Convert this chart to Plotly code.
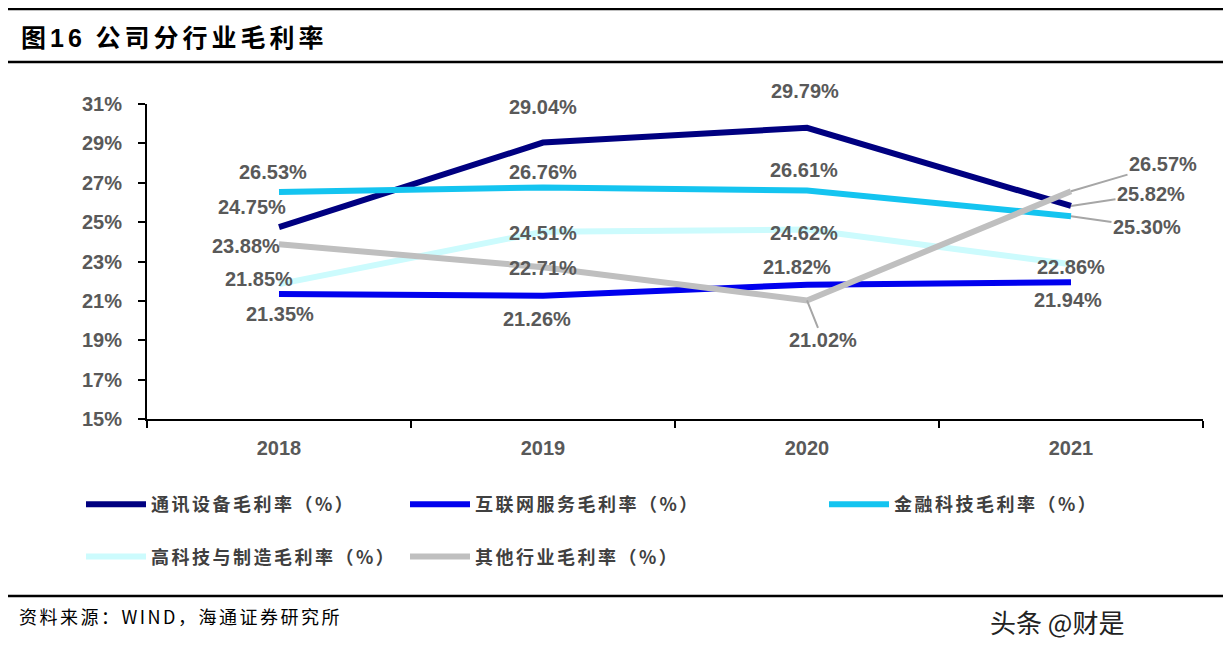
import plotly.graph_objects as go

# data (gross margin by segment, %)
years = ['2018', '2019', '2020', '2021']
comm_equipment = [24.75, 29.04, 29.79, 25.82]
internet_services = [21.35, 21.26, 21.82, 21.94]
fintech = [26.53, 26.76, 26.61, 25.30]
hitech_mfg = [21.85, 24.51, 24.62, 22.86]
other_segments = [23.88, 22.71, 21.02, 26.57]

series_names = ['通讯设备毛利率（%）', '互联网服务毛利率（%）', '金融科技毛利率（%）',
                '高科技与制造毛利率（%）', '其他行业毛利率（%）']
y_ticks = [15, 17, 19, 21, 23, 25, 27, 29, 31]
y_tick_text = ['15%', '17%', '19%', '21%', '23%', '25%', '27%', '29%', '31%']

# styling
colors = ['#000080', '#0000EE', '#14C4F0', '#CCFBFD', '#BFBFBF']
legend_ids = ['legend', 'legend2', 'legend3', 'legend', 'legend2']
# label offsets in px (dx, dy, leader line?)
label_offsets = [
    [(-27, -20, False), (0, -36, False), (-2, -37, False), (80, -12, True)],
    [(1, 20, False), (-6, 23, False), (-10, -18, False), (-3, 18, False)],
    [(-6, -20, False), (0, -15, False), (-3, -20, False), (76, 11, True)],
    [(-20, -5, False), (0, 1, False), (-3, 3, False), (0, 3, False)],
    [(-33, 2, False), (0, 1, False), (16, 40, True), (92, -27, True)],
]

NUM_FONT = 'Liberation Sans, Arial, sans-serif'
CJK_FONT = 'Noto Sans CJK SC, sans-serif'
GREY = '#595959'

# the page adds an 8px body margin, so positions are given in screen px and shifted
OFF = 8
W, H = 1231, 656
X0, X1, Y0, Y1 = 147 - OFF, 1203 - OFF, 104 - OFF, 419 - OFF   # plot area
L, R, T, B = X0, W - X1, Y0, H - Y1
PW, PH = X1 - X0, Y1 - Y0


def px_x(px):
    return (px - OFF - X0) / PW


def px_y(py):
    return (Y1 - (py - OFF)) / PH


def spaced(text, gap):
    return '<span style="letter-spacing:%spx">%s</span>' % (gap, text)


all_series = [comm_equipment, internet_services, fintech, hitech_mfg, other_segments]

fig = go.Figure()
for i, vals in enumerate(all_series):
    fig.add_trace(go.Scatter(
        x=years, y=vals, mode='lines', name=spaced(series_names[i], 2.5),
        line=dict(color=colors[i], width=6),
        legend=legend_ids[i], legendgroup='g%d' % i,
        hovertemplate='%{x}: %{y:.2f}%<extra></extra>'
    ))

annotations = []
for i, vals in enumerate(all_series):
    for j, v in enumerate(vals):
        dx, dy, leader = label_offsets[i][j]
        # category axis: annotations take the category index
        ann = dict(x=j, y=v, xref='x', yref='y', text='<b>%.2f%%</b>' % v,
                   font=dict(family=NUM_FONT, size=20, color=GREY))
        if leader:
            ann.update(showarrow=True, arrowhead=0, arrowwidth=2, arrowcolor='#A6A6A6',
                       ax=dx, ay=dy, standoff=0)
        else:
            ann.update(showarrow=False, xshift=dx, yshift=-dy)
        annotations.append(ann)

# title, source note, watermark
annotations.append(dict(
    x=px_x(19), y=px_y(36), xref='paper', yref='paper', xanchor='left', yanchor='middle',
    text='<b>' + spaced('图<span style="font-family:Liberation Sans">16</span> 公司分行业毛利率', 4) + '</b>',
    showarrow=False, font=dict(family=CJK_FONT, size=25, color='#000000')))
annotations.append(dict(
    x=px_x(17), y=px_y(616), xref='paper', yref='paper', xanchor='left', yanchor='middle',
    text=spaced('资料来源：WIND，海通证券研究所', 2.5),
    showarrow=False, font=dict(family=CJK_FONT, size=18, color='#000000')))
annotations.append(dict(
    x=px_x(1126), y=px_y(621), xref='paper', yref='paper', xanchor='right', yanchor='middle',
    text='头条 @财是', showarrow=False, font=dict(family=CJK_FONT, size=26, color='#222222')))

shapes = []
for py in (9, 62, 596):
    shapes.append(dict(type='line', xref='paper', yref='paper',
                       x0=px_x(0), x1=px_x(W + OFF), y0=px_y(py), y1=px_y(py),
                       line=dict(color='#000000', width=2.5)))

legend_style = dict(
    orientation='v', xanchor='left', yanchor='top', bgcolor='rgba(0,0,0,0)',
    font=dict(family=CJK_FONT, size=18, color='#404040', weight='bold'),
    tracegroupgap=26, itemwidth=60, itemclick=False, itemdoubleclick=False
)

fig.update_layout(
    width=W, height=H,
    margin=dict(l=L, r=R, t=T, b=B),
    paper_bgcolor='#FFFFFF', plot_bgcolor='#FFFFFF',
    showlegend=True,
    legend=dict(x=px_x(81), y=px_y(486), **legend_style),
    legend2=dict(x=px_x(405), y=px_y(486), **legend_style),
    legend3=dict(x=px_x(824), y=px_y(486), **legend_style),
    annotations=annotations, shapes=shapes,
)

fig.update_yaxes(
    range=[15, 31], tickmode='array', tickvals=y_ticks, ticktext=y_tick_text,
    showgrid=False, zeroline=False,
    showline=True, linecolor='#000000', linewidth=2,
    ticks='outside', ticklen=7, tickwidth=2, tickcolor='#000000',
    ticklabelstandoff=12,
    tickfont=dict(family=NUM_FONT, size=20, color=GREY, weight='bold')
)
fig.update_xaxes(
    type='category', range=[-0.5, 3.5],
    showgrid=False, zeroline=False,
    showline=True, linecolor='#000000', linewidth=2,
    ticks='outside', tickson='boundaries', ticklen=7, tickwidth=2, tickcolor='#000000',
    ticklabelstandoff=10,
    tickfont=dict(family=NUM_FONT, size=20, color=GREY, weight='bold')
)

fig.write_html('out.html')
